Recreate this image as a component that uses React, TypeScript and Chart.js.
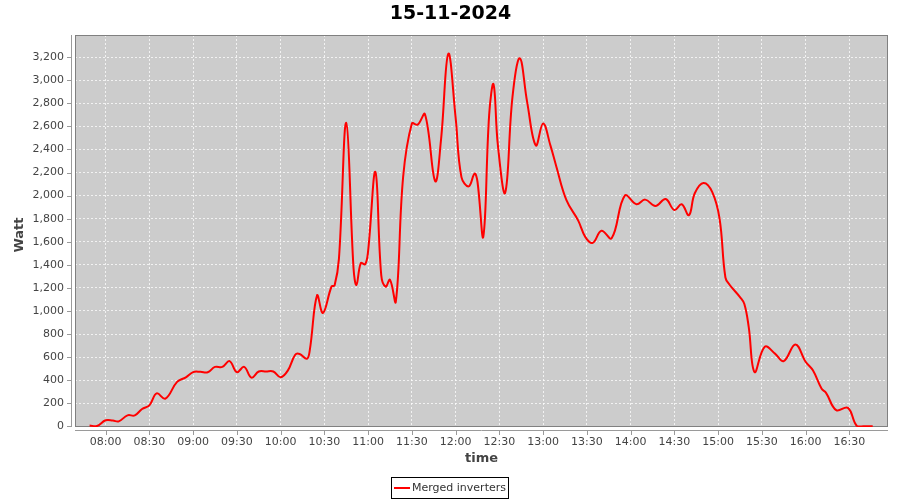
import React, { useEffect, useRef } from "react";
import { Chart, registerables } from "chart.js";

Chart.register(...registerables);

const TITLE = "15-11-2024";
const SERIES_LABEL = "Merged inverters";
const X_TITLE = "time";
const Y_TITLE = "Watt";

const times = [
  "07:49", "07:54", "08:00", "08:05", "08:09", "08:15", "08:20", "08:25", "08:30", "08:35",
  "08:41", "08:49", "08:55", "09:00", "09:05", "09:10", "09:15", "09:20", "09:25", "09:30",
  "09:35", "09:40", "09:45", "09:50", "09:55", "10:00", "10:05", "10:10", "10:13", "10:18",
  "10:20", "10:25", "10:29", "10:35", "10:37", "10:40", "10:45", "10:50", "10:52", "10:55",
  "10:58", "11:00", "11:05", "11:09", "11:12", "11:15", "11:19", "11:24", "11:30", "11:34",
  "11:39", "11:46", "11:50", "11:55", "12:00", "12:04", "12:09", "12:13", "12:15", "12:19",
  "12:23", "12:26", "12:29", "12:34", "12:39", "12:44", "12:49", "12:55", "13:00", "13:05",
  "13:09", "13:16", "13:24", "13:29", "13:34", "13:40", "13:47", "13:56", "14:04", "14:10",
  "14:17", "14:24", "14:30", "14:35", "14:40", "14:44", "14:50", "14:56", "15:01", "15:05",
  "15:08", "15:15", "15:18", "15:21", "15:25", "15:32", "15:39", "15:45", "15:53", "16:00",
  "16:05", "16:11", "16:14", "16:21", "16:29", "16:35", "16:40", "16:46",
];

const watts = [
  8, 3, 52, 50, 43, 95, 95, 150, 182, 285,
  240, 385, 425, 470, 472, 468, 515, 515, 565, 470,
  515, 422, 475, 475, 475, 425, 485, 620, 627, 585,
  660, 1135, 983, 1214, 1220, 1454, 2630, 1370, 1225, 1415,
  1405, 1520, 2205, 1310, 1210, 1270, 1080, 2160, 2625, 2615,
  2705, 2125, 2485, 3230, 2675, 2160, 2080, 2190, 2120, 1645,
  2700, 2965, 2435, 2025, 2855, 3190, 2815, 2435, 2625, 2435,
  2255, 1960, 1785, 1640, 1590, 1695, 1630, 2000, 1925, 1965,
  1910, 1970, 1875, 1925, 1830, 2020, 2110, 2030, 1800, 1290,
  1225, 1120, 1060, 860, 470, 690, 630, 565, 710, 560,
  485, 325, 290, 140, 160, 5, 0, 0,
];

const xTickLabels = [
  "08:00", "08:30", "09:00", "09:30", "10:00", "10:30", "11:00", "11:30", "12:00",
  "12:30", "13:00", "13:30", "14:00", "14:30", "15:00", "15:30", "16:00", "16:30",
];
const yTickValues = [0, 200, 400, 600, 800, 1000, 1200, 1400, 1600, 1800, 2000, 2200, 2400, 2600, 2800, 3000, 3200];

const X_MIN = "07:39";
const X_MAX = "16:56";
const Y_MIN = -6;
const Y_MAX = 3392;

const toMin = (s: string) => {
  const [h, m] = s.split(":").map(Number);
  return h * 60 + m;
};
const fmtTime = (v: number) => {
  const h = Math.floor(v / 60);
  const m = Math.round(v - h * 60);
  return `${String(h).padStart(2, "0")}:${String(m).padStart(2, "0")}`;
};

const FONT = "'DejaVu Sans', sans-serif";

const decorPlugin = {
  id: "decor",
  beforeDraw(chart: any) {
    const { ctx, chartArea: a, width, height } = chart;
    ctx.save();
    ctx.fillStyle = "#ffffff";
    ctx.fillRect(0, 0, width, height);
    ctx.fillStyle = "#cccccc";
    ctx.fillRect(a.left, a.top, a.right - a.left, a.bottom - a.top);
    ctx.restore();
  },
  beforeDatasetsDraw(chart: any) {
    const { ctx, chartArea: a, scales } = chart;
    ctx.save();
    // plot outline
    ctx.strokeStyle = "#808080";
    ctx.lineWidth = 1;
    ctx.strokeRect(a.left + 0.5, a.top + 0.5, a.right - a.left - 1, a.bottom - a.top - 1);
    // offset axis lines
    ctx.strokeStyle = "#9a9a9a";
    ctx.beginPath();
    ctx.moveTo(a.left - 3.5, a.top);
    ctx.lineTo(a.left - 3.5, a.bottom);
    ctx.moveTo(a.left, a.bottom + 3.5);
    ctx.lineTo(a.right, a.bottom + 3.5);
    // tick marks
    for (const v of yTickValues) {
      const y = Math.round(scales.y.getPixelForValue(v)) + 0.5;
      ctx.moveTo(a.left - 8, y);
      ctx.lineTo(a.left - 4, y);
    }
    for (const s of xTickLabels) {
      const x = Math.round(scales.x.getPixelForValue(toMin(s))) + 0.5;
      ctx.moveTo(x, a.bottom + 4);
      ctx.lineTo(x, a.bottom + 8);
    }
    ctx.stroke();
    ctx.restore();
  },
  afterDraw(chart: any) {
    const { ctx, chartArea: a } = chart;
    ctx.save();
    // title
    ctx.fillStyle = "#000000";
    ctx.font = `bold 19px ${FONT}`;
    ctx.textAlign = "center";
    ctx.textBaseline = "middle";
    ctx.fillText(TITLE, (a.left + a.right) / 2 - 31, 14);

    // axis titles
    ctx.fillStyle = "#444444";
    ctx.font = `bold 13px ${FONT}`;
    ctx.fillText(X_TITLE, (a.left + a.right) / 2, 459);
    ctx.save();
    ctx.translate(20, (a.top + a.bottom) / 2 + 4);
    ctx.rotate(-Math.PI / 2);
    ctx.fillText(Y_TITLE, 0, 0);
    ctx.restore();

    // legend
    ctx.strokeStyle = "#000000";
    ctx.lineWidth = 1;
    ctx.strokeRect(391.5, 477.5, 117, 21);
    ctx.strokeStyle = "#ff0000";
    ctx.lineWidth = 2;
    ctx.beginPath();
    ctx.moveTo(394, 488);
    ctx.lineTo(410, 488);
    ctx.stroke();
    ctx.fillStyle = "#333333";
    ctx.font = `11px ${FONT}`;
    ctx.textAlign = "left";
    ctx.fillText(SERIES_LABEL, 412, 488.5);
    ctx.restore();
  },
};

export default function App() {
  const ref = useRef<HTMLCanvasElement | null>(null);

  useEffect(() => {
    if (!ref.current) return;
    const data = times.map((t, i) => ({ x: toMin(t), y: watts[i] }));
    const chart = new Chart(ref.current, {
      type: "line",
      data: {
        datasets: [
          {
            label: SERIES_LABEL,
            data,
            borderColor: "#ff0000",
            borderWidth: 2,
            pointRadius: 0,
            tension: 0.4,
            fill: false,
          },
        ],
      },
      options: {
        animation: false,
        responsive: true,
        maintainAspectRatio: false,
        layout: { padding: { top: 35, right: 12, left: 0, bottom: 0 } },
        plugins: {
          legend: { display: false },
          title: { display: false },
          tooltip: { enabled: false },
        },
        scales: {
          x: {
            type: "linear",
            min: toMin(X_MIN),
            max: toMin(X_MAX) + 0.5,
            afterFit: (s: any) => {
              s.height = 73;
            },
            afterBuildTicks: (s: any) => {
              s.ticks = xTickLabels.map((l) => ({ value: toMin(l) }));
            },
            ticks: {
              padding: 9,
              maxRotation: 0,
              autoSkip: false,
              color: "#444444",
              font: { family: FONT, size: 11 },
              callback: (v: any) => fmtTime(Number(v)),
            },
            grid: {
              color: "rgba(255,255,255,0.75)",
              lineWidth: 1,
              drawTicks: false,
            },
            border: { display: false, dash: [2, 2] },
          },
          y: {
            type: "linear",
            min: Y_MIN,
            max: Y_MAX,
            afterFit: (s: any) => {
              s.width = 75;
            },
            afterBuildTicks: (s: any) => {
              s.ticks = yTickValues.map((v) => ({ value: v }));
            },
            ticks: {
              padding: 11,
              color: "#444444",
              font: { family: FONT, size: 11 },
              callback: (v: any) => Number(v).toLocaleString("en-US"),
            },
            grid: {
              color: "rgba(255,255,255,0.75)",
              lineWidth: 1,
              drawTicks: false,
            },
            border: { display: false, dash: [2, 2] },
          },
        },
      },
      plugins: [decorPlugin],
    });
    return () => chart.destroy();
  }, []);

  return (
    <div style={{ position: "fixed", left: 0, top: 0, width: 900, height: 500 }}>
      <canvas ref={ref} />
    </div>
  );
}
